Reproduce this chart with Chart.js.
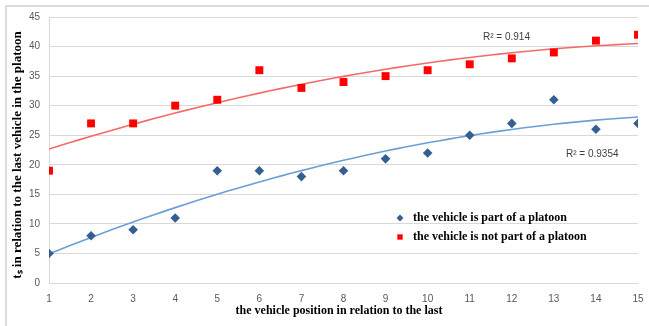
<!DOCTYPE html>
<html>
<head>
<meta charset="utf-8">
<script src="https://cdn.jsdelivr.net/npm/chart.js@4.4.0/dist/chart.umd.min.js"></script>
<style>
  html, body { margin: 0; padding: 0; background: #fff; }
  #wrap { width: 649px; height: 326px; position: relative; }
</style>
</head>
<body>
<div id="wrap"><canvas id="chart_platoon"></canvas></div>
<script>
var positions = [1, 2, 3, 4, 5, 6, 7, 8, 9, 10, 11, 12, 13, 14, 15];
var inPlatoon = [5, 8, 9, 11, 19, 19, 18, 19, 21, 22, 25, 27, 31, 26, 27];
var notInPlatoon = [19, 27, 27, 30, 31, 36, 33, 34, 35, 36, 37, 38, 39, 41, 42];
var seriesNames = ['the vehicle is part of a platoon', 'the vehicle is not part of a platoon'];
var r2Labels = ['R\u00b2 = 0.9354', 'R\u00b2 = 0.914'];

// 2nd order polynomial trendline (least squares), like the spreadsheet one
function polyFit(xs, ys) {
    var n = xs.length, s = [0, 0, 0, 0, 0], t = [0, 0, 0];
    for (var i = 0; i < n; i++) {
        var p = 1;
        for (var k = 0; k < 5; k++) { s[k] += p; if (k < 3) t[k] += ys[i] * p; p *= xs[i]; }
    }
    var m = [[s[0], s[1], s[2], t[0]], [s[1], s[2], s[3], t[1]], [s[2], s[3], s[4], t[2]]];
    for (var c = 0; c < 3; c++) {
        for (var r = c + 1; r < 3; r++) {
            var f = m[r][c] / m[c][c];
            for (var j = c; j < 4; j++) m[r][j] -= f * m[c][j];
        }
    }
    var a = [0, 0, 0];
    for (var r2 = 2; r2 >= 0; r2--) {
        var v = m[r2][3];
        for (var j2 = r2 + 1; j2 < 3; j2++) v -= m[r2][j2] * a[j2];
        a[r2] = v / m[r2][r2];
    }
    return a;
}
function trendPoints(xs, ys) {
    var a = polyFit(xs, ys), pts = [];
    for (var x = xs[0]; x <= xs[xs.length - 1] + 1e-9; x += 0.25) {
        pts.push({ x: x, y: a[0] + a[1] * x + a[2] * x * x });
    }
    return pts;
}
function toXY(xs, ys) {
    return xs.map(function (x, i) { return { x: x, y: ys[i] }; });
}

var serif = "'Liberation Serif', 'Times New Roman', serif";
var sans = "'Liberation Sans', Arial, sans-serif";

var chart_platoon = new Chart(document.getElementById('chart_platoon'), {
    type: 'scatter',
    data: {
        datasets: [
            {
                label: seriesNames[0],
                data: toXY(positions, inPlatoon),
                pointStyle: 'rectRot',
                pointRadius: 4.8,
                backgroundColor: '#335f92',
                borderColor: '#335f92',
                borderWidth: 0,
                order: 1
            },
            {
                label: seriesNames[1],
                data: toXY(positions, notInPlatoon),
                pointStyle: 'rect',
                pointRadius: 5.6,
                backgroundColor: '#ff0000',
                borderColor: '#ff0000',
                borderWidth: 0,
                order: 1
            },
            {
                label: 'trend 1',
                type: 'line',
                data: trendPoints(positions, inPlatoon),
                borderColor: '#6a9fd8',
                borderWidth: 1.6,
                pointRadius: 0,
                fill: false,
                order: 2
            },
            {
                label: 'trend 2',
                type: 'line',
                data: trendPoints(positions, notInPlatoon),
                borderColor: '#f46a6a',
                borderWidth: 1.6,
                pointRadius: 0,
                fill: false,
                order: 2
            }
        ]
    },
    options: {
        animation: false,
        responsive: true,
        maintainAspectRatio: false,
        layout: { padding: { left: 8, top: 17, right: 11, bottom: 0 } },
        plugins: {
            legend: { display: false },
            tooltip: { enabled: false }
        },
        scales: {
            x: {
                type: 'linear',
                min: 1,
                max: 15,
                afterFit: function (scale) { scale.height = 43; scale.paddingLeft = 0; scale.paddingRight = 0; },
                ticks: { stepSize: 1, color: '#595959', font: { family: sans, size: 10 }, padding: 2, maxRotation: 0 },
                grid: { display: false },
                border: { color: '#d9d9d9' },
                title: { display: false }
            },
            y: {
                min: 0,
                max: 45,
                afterFit: function (scale) { scale.width = 41; scale.paddingTop = 0; scale.paddingBottom = 0; },
                ticks: { stepSize: 5, color: '#595959', font: { family: sans, size: 10 }, padding: 9 },
                grid: { color: '#d9d9d9', drawTicks: false },
                border: { color: '#d9d9d9' },
                title: { display: false }
            }
        }
    },
    plugins: [{
        id: 'frameAndNotes',
        beforeDraw: function (chart) {
            var ctx = chart.ctx;
            ctx.save();
            ctx.fillStyle = 'white';
            ctx.fillRect(0, 0, chart.width, chart.height);
            ctx.strokeStyle = '#cfcfcf';
            ctx.lineWidth = 1.5;
            ctx.beginPath();
            ctx.moveTo(6, chart.height);
            ctx.lineTo(6, 6);
            ctx.lineTo(chart.width, 6);
            ctx.stroke();
            ctx.restore();
        },
        afterDraw: function (chart) {
            var ctx = chart.ctx;
            ctx.save();
            // axis titles
            ctx.fillStyle = '#000';
            ctx.font = 'bold 12px ' + serif;
            ctx.textAlign = 'center';
            ctx.textBaseline = 'middle';
            ctx.fillText('the vehicle position in relation to the last', 339, 311);
            ctx.save();
            ctx.translate(18, 155);
            ctx.rotate(-Math.PI / 2);
            ctx.font = 'bold 13px ' + serif;
            ctx.fillText('t\u209b in relation to the last vehicle in the platoon', 0, 0);
            ctx.restore();
            // R squared labels
            ctx.fillStyle = '#404040';
            ctx.font = '10px ' + sans;
            ctx.textAlign = 'left';
            ctx.fillText(r2Labels[1], 483, 37);
            ctx.fillText(r2Labels[0], 566, 154);
            // legend inside the plot
            var items = [
                { text: seriesNames[0], color: '#335f92', style: 'rectRot', r: 3.4, y: 218 },
                { text: seriesNames[1], color: '#ff0000', style: 'rect', r: 3.8, y: 237 }
            ];
            ctx.font = 'bold 12px ' + serif;
            items.forEach(function (it) {
                ctx.fillStyle = it.color;
                ctx.strokeStyle = it.color;
                Chart.helpers.drawPoint(ctx, { pointStyle: it.style, radius: it.r, borderWidth: 0 }, 400, it.y);
                ctx.fillStyle = '#000';
                ctx.fillText(it.text, 413, it.y);
            });
            ctx.restore();
        }
    }]
});
</script>
</body>
</html>
